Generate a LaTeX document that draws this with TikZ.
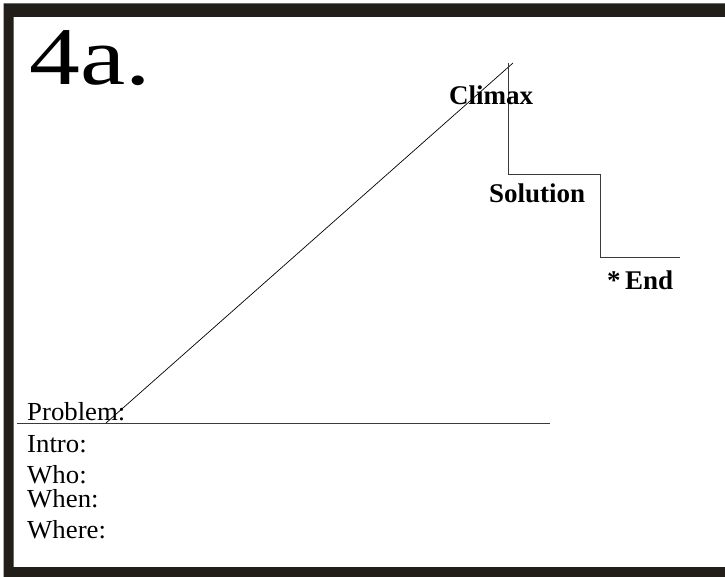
\documentclass[tikz,border=0pt]{standalone}
\usepackage{fontspec}
\setmainfont{Liberation Serif}
\usetikzlibrary{positioning}
\definecolor{framecol}{HTML}{221F1A}
\definecolor{linecol}{HTML}{3A3A3A}

\begin{document}
\begin{tikzpicture}[x=1pt, y=-1pt, lbl/.style={anchor=base west, inner sep=0pt, xscale=1.03, font=\fontsize{26}{26}\selectfont}, stage/.style={anchor=base west, inner sep=0pt, font=\fontsize{27}{27}\selectfont\bfseries}, plot/.style={linecol, line width=0.9pt}]
\useasboundingbox (0,0) rectangle (725,577);
\fill[white] (0,0) rectangle (725,577);
% frame, open at the right
\fill[framecol, even odd rule] (3.5,3.5) rectangle (726,578) (13.5,17) rectangle (726,567);
\node[anchor=base west, inner sep=0pt, xscale=1.24, font=\fontsize{82}{82}\selectfont] (title) at (29,85) {4a.};
% story line
\coordinate (base0) at (17,423);
\coordinate (base1) at (550,423);
\coordinate (rise0) at (106,423);
\coordinate (peak) at (513,63);
\coordinate (drop0) at (508,63);
\coordinate (drop1) at (508,174);
\coordinate (drop2) at (600,174);
\coordinate (drop3) at (600,257);
\coordinate (drop4) at (680,257);
\draw[plot] (base0) -- (base1);
\draw[black, line width=0.7pt] (rise0) -- (peak);
\draw[plot] (drop0) -- (drop1) -- (drop2) -- (drop3) -- (drop4);
\node[stage] (climax) at (449,105) {Climax};
\node[stage] (sol) at (489,203) {Solution};
\node[stage] (end) at (607,289) {*\,End};
\node[lbl] (prob) at (27,420) {Problem:};
\node[lbl] (intro) at (27,452) {Intro:};
\node[lbl] (who) at (27,483) {Who:};
\node[lbl] (when) at (27,507) {When:};
\node[lbl] (where) at (27,538) {Where:};
\end{tikzpicture}
\end{document}
